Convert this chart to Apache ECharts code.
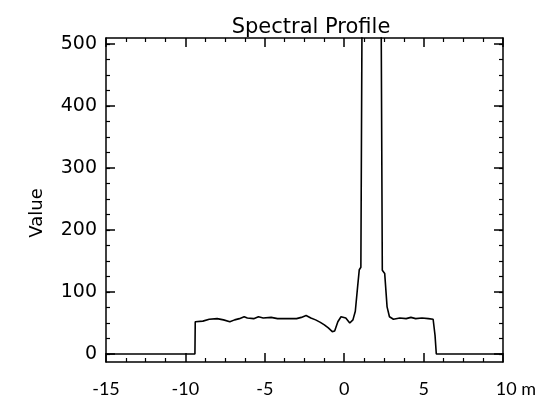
<!DOCTYPE html>
<html>
<head>
<meta charset="utf-8">
<script src="https://cdn.jsdelivr.net/npm/echarts@6/dist/echarts.min.js"></script>
<style>
html, body { margin: 0; padding: 0; background: #fff; }
#container { width: 547px; height: 400px; }
</style>
</head>
<body>
<div id="container"></div>
<script>
// profile distance (m) and value
let xs = [-15, -9.4, -9.38, -8.9, -8.5, -8.0, -7.6, -7.2, -6.9, -6.6, -6.3, -6.1, -5.7, -5.4, -5.1, -4.6, -4.2, -3.6, -3.0, -2.7, -2.4, -2.1, -1.8, -1.5, -1.25, -1.0, -0.75, -0.6, -0.4, -0.2, 0.1, 0.35, 0.55, 0.7, 0.85, 0.95, 1.05, 1.15, 1.5, 1.9, 2.3, 2.4, 2.55, 2.7, 2.85, 3.1, 3.5, 3.9, 4.2, 4.5, 4.9, 5.3, 5.6, 5.72, 5.8, 10];
let ys = [0, 0, 52, 53, 56, 57, 55, 52, 55, 57, 60, 58, 57, 60, 58, 59, 57, 57, 57, 59, 62, 58, 55, 51, 47, 42, 36, 37, 52, 60, 58, 50, 55, 69, 110, 136, 140, 700, 1200, 1100, 700, 135, 130, 76, 60, 56, 58, 57, 59, 57, 58, 57, 56, 30, 0, 0];
let yMajor = [0, 100, 200, 300, 400, 500];
let yMinor = [0, 25, 50, 75, 100, 125, 150, 175, 200, 225, 250, 275, 300, 325, 350, 375, 400, 425, 450, 475, 500];

let points = [];
for (let i = 0; i < xs.length; i++) {
    points.push([xs[i], ys[i]]);
}

let hershey = 'DejaVu Sans';
let lineStyle = { color: '#000', width: 1.5 };

function xAxisDef(pos, labels) {
    return {
        type: 'value', position: pos, min: -15, max: 10, interval: 5,
        axisLine: { show: true, onZero: false, lineStyle: lineStyle },
        axisTick: { show: true, inside: true, length: 9, lineStyle: lineStyle },
        minorTick: { show: true, splitNumber: 4, length: 4, lineStyle: { color: '#000', width: 1.2 } },
        splitLine: { show: false },
        axisLabel: {
            show: labels, margin: 18, color: '#000', fontFamily: 'Lato', fontSize: 18,
            formatter: function (v) { return v === 10 ? '{u|10 m}' : String(v); },
            rich: { u: { fontFamily: 'Lato', fontSize: 18, color: '#000', padding: [0, 0, 0, 26] } }
        }
    };
}

function yAxisDef(pos, major, labels) {
    return {
        type: 'value', position: pos, min: -13, max: 510,
        name: labels ? 'Value' : '', nameLocation: 'middle', nameGap: 60,
        nameTextStyle: { fontFamily: hershey, fontSize: 18, color: '#000', padding: [0, 26, 0, 0] },
        axisLine: { show: major, onZero: false, lineStyle: lineStyle },
        axisTick: {
            show: true, inside: true, length: major ? 9 : 4,
            customValues: major ? yMajor : yMinor,
            lineStyle: { color: '#000', width: major ? 1.5 : 1.2 }
        },
        splitLine: { show: false },
        axisLabel: {
            show: labels, margin: 9, color: '#000', fontFamily: hershey, fontSize: 19,
            customValues: yMajor
        }
    };
}

let option = {
    backgroundColor: '#fff',
    animation: false,
    title: {
        text: 'Spectral Profile', left: 306, top: 12, textAlign: 'center',
        textStyle: { fontFamily: hershey, fontSize: 21, fontWeight: 'normal', color: '#000' }
    },
    grid: { left: 106, right: 44, top: 38, bottom: 38 },
    xAxis: [xAxisDef('bottom', true), xAxisDef('top', false)],
    yAxis: [
        yAxisDef('left', true, true),
        yAxisDef('left', false, false),
        yAxisDef('right', true, false),
        yAxisDef('right', false, false)
    ],
    series: [{
        type: 'line', data: points, xAxisIndex: 0, yAxisIndex: 0,
        showSymbol: false, clip: true,
        lineStyle: { color: '#000', width: 1.6 }
    }]
};

let myChart = echarts.init(document.getElementById('container'));
myChart.setOption(option, true);
</script>
</body>
</html>
